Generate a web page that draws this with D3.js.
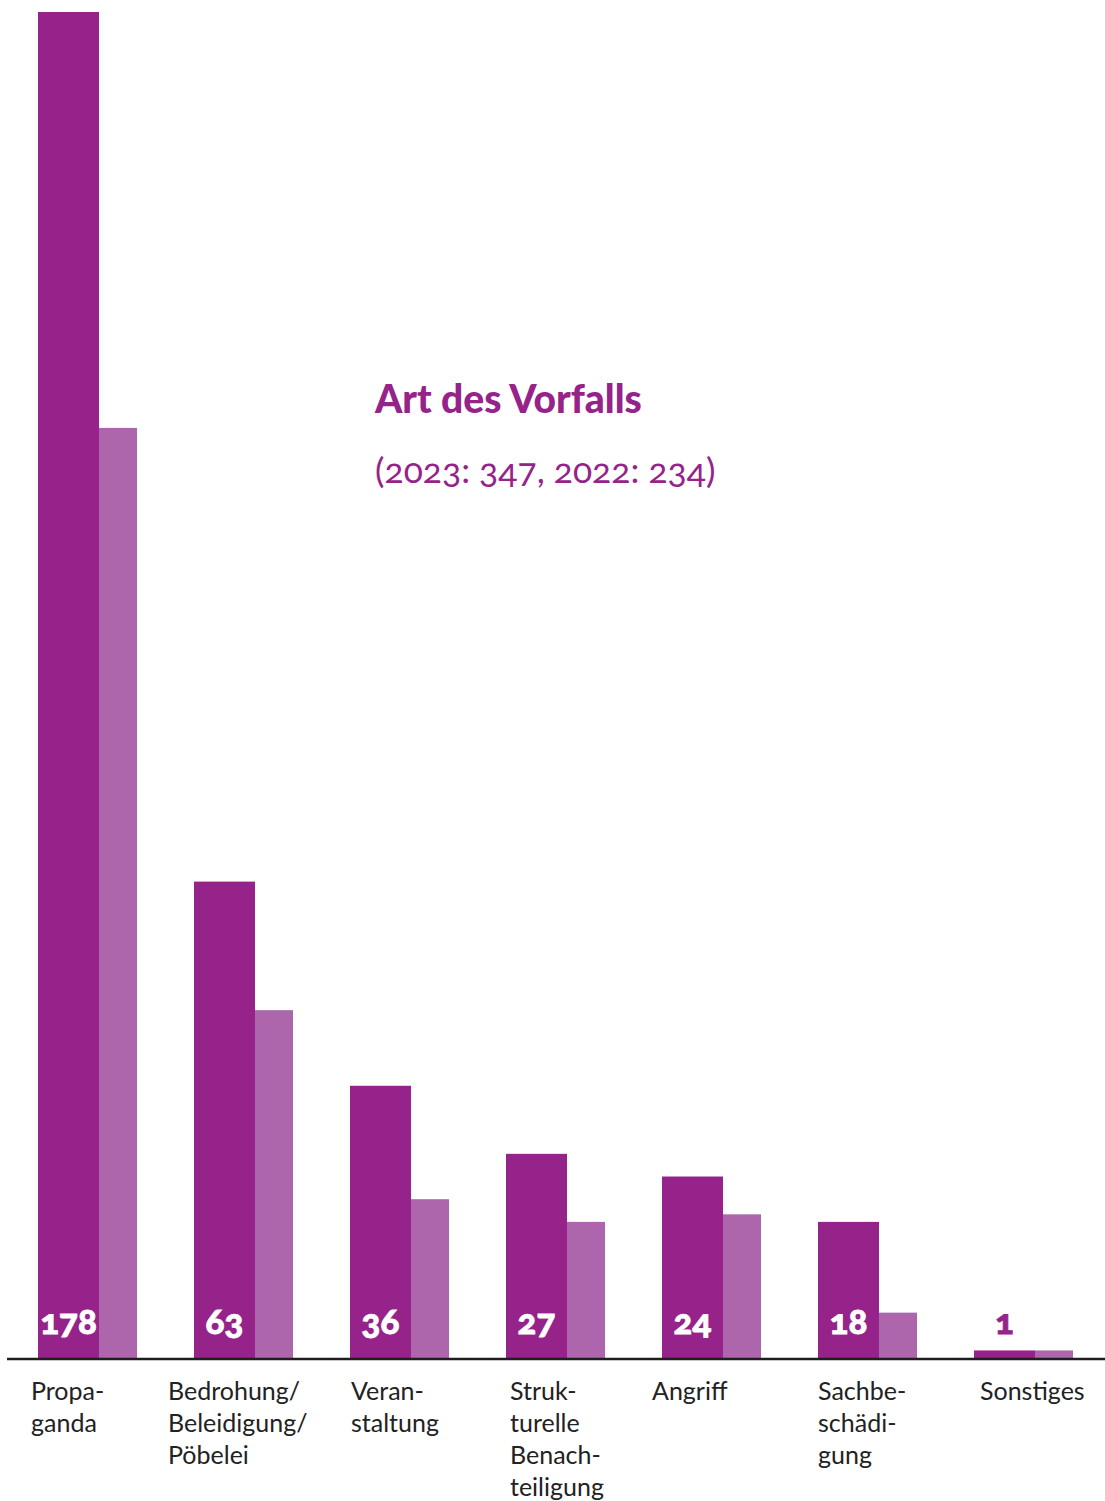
<!DOCTYPE html>
<html>
<head>
<meta charset="utf-8">
<script src="https://cdn.jsdelivr.net/npm/d3@7"></script>
<style>
  body{margin:0;background:#fff;}
  svg text{font-family:Lato,"Open Sans",sans-serif;font-variant-numeric:oldstyle-nums;}
</style>
</head>
<body>
<svg id="drawing_region"></svg>
<script>
// data
const categories = ["Propaganda","Bedrohung/Beleidigung/Pöbelei","Veranstaltung","Strukturelle Benachteiligung","Angriff","Sachbeschädigung","Sonstiges"];
const labelLines = [["Propa-","ganda"],["Bedrohung/","Beleidigung/","Pöbelei"],["Veran-","staltung"],["Struk-","turelle","Benach-","teiligung"],["Angriff"],["Sachbe-","schädi-","gung"],["Sonstiges"]];
const values2023 = [178,63,36,27,24,18,1];
const values2022 = [123,46,21,18,19,6,1];
const title = "Art des Vorfalls";
const subtitle = "(2023: 347, 2022: 234)";

const config = {
    width:1105,
    height:1501,
    baseline:1358,
    top:12,
    left:38,
    right:1073,
    dark:"#95238a",
    light:"#ad66ab",
    text:"#222"
};
// small nudges for the category label blocks
const labelDx = [-7,-26,1,4,-10,0,6];

const svg = d3.select("#drawing_region")
    .attr("width",config.width)
    .attr("height",config.height)

const x = d3.scaleBand()
    .domain(categories)
    .range([config.left,config.right])
    .paddingInner(57/156)
    .paddingOuter(0)

const y = d3.scaleLinear()
    .domain([0,178])
    .range([config.baseline,config.top])

const darkW = x.bandwidth()*61/99
const lightW = x.bandwidth()-darkW

const rows = categories.map((c,i)=>({cat:c,v23:values2023[i],v22:values2022[i],lines:labelLines[i],dx:labelDx[i]}))

// 2022 bars (lighter)
svg.selectAll(".bar22")
    .data(rows)
    .enter()
    .append("rect")
    .attr("class","bar22")
    .attr("x",d=>x(d.cat)+darkW)
    .attr("y",d=>y(d.v22))
    .attr("width",lightW)
    .attr("height",d=>y(0)-y(d.v22))
    .attr("fill",config.light)

// 2023 bars
svg.selectAll(".bar23")
    .data(rows)
    .enter()
    .append("rect")
    .attr("class","bar23")
    .attr("x",d=>x(d.cat))
    .attr("y",d=>y(d.v23))
    .attr("width",darkW)
    .attr("height",d=>y(0)-y(d.v23))
    .attr("fill",config.dark)

// value labels
svg.selectAll(".val")
    .data(rows)
    .enter()
    .append("text")
    .attr("class","val")
    .attr("x",d=>x(d.cat)+darkW/2)
    .attr("y",config.baseline-24)
    .attr("text-anchor","middle")
    .attr("font-size",35)
    .attr("font-weight",900)
    .attr("stroke",d=>(y(0)-y(d.v23))>50 ? "#fff" : config.dark)
    .attr("stroke-width",0.8)
    .attr("fill",d=>(y(0)-y(d.v23))>50 ? "#fff" : config.dark)
    .text(d=>d.v23)

// baseline
svg.append("line")
    .attr("x1",7)
    .attr("x2",config.width)
    .attr("y1",config.baseline+1)
    .attr("y2",config.baseline+1)
    .attr("stroke","#1e1e1e")
    .attr("stroke-width",2.5)

// category labels
const lab = svg.selectAll(".cat")
    .data(rows)
    .enter()
    .append("text")
    .attr("class","cat")
    .attr("font-size",25)
    .attr("fill",config.text)
    .attr("transform",d=>`translate(${x(d.cat)+d.dx},1400)`)

lab.selectAll("tspan")
    .data(d=>d.lines)
    .enter()
    .append("tspan")
    .attr("x",0)
    .attr("y",(d,i)=>i*32)
    .text(d=>d)

// title
svg.append("text")
    .attr("x",375)
    .attr("y",413)
    .attr("font-size",39)
    .attr("font-weight",900)
    .attr("fill",config.dark)
    .text(title)

svg.append("text")
    .attr("x",375)
    .attr("y",483)
    .attr("font-size",35.5)
    .attr("fill",config.dark)
    .text(subtitle)
</script>
</body>
</html>
